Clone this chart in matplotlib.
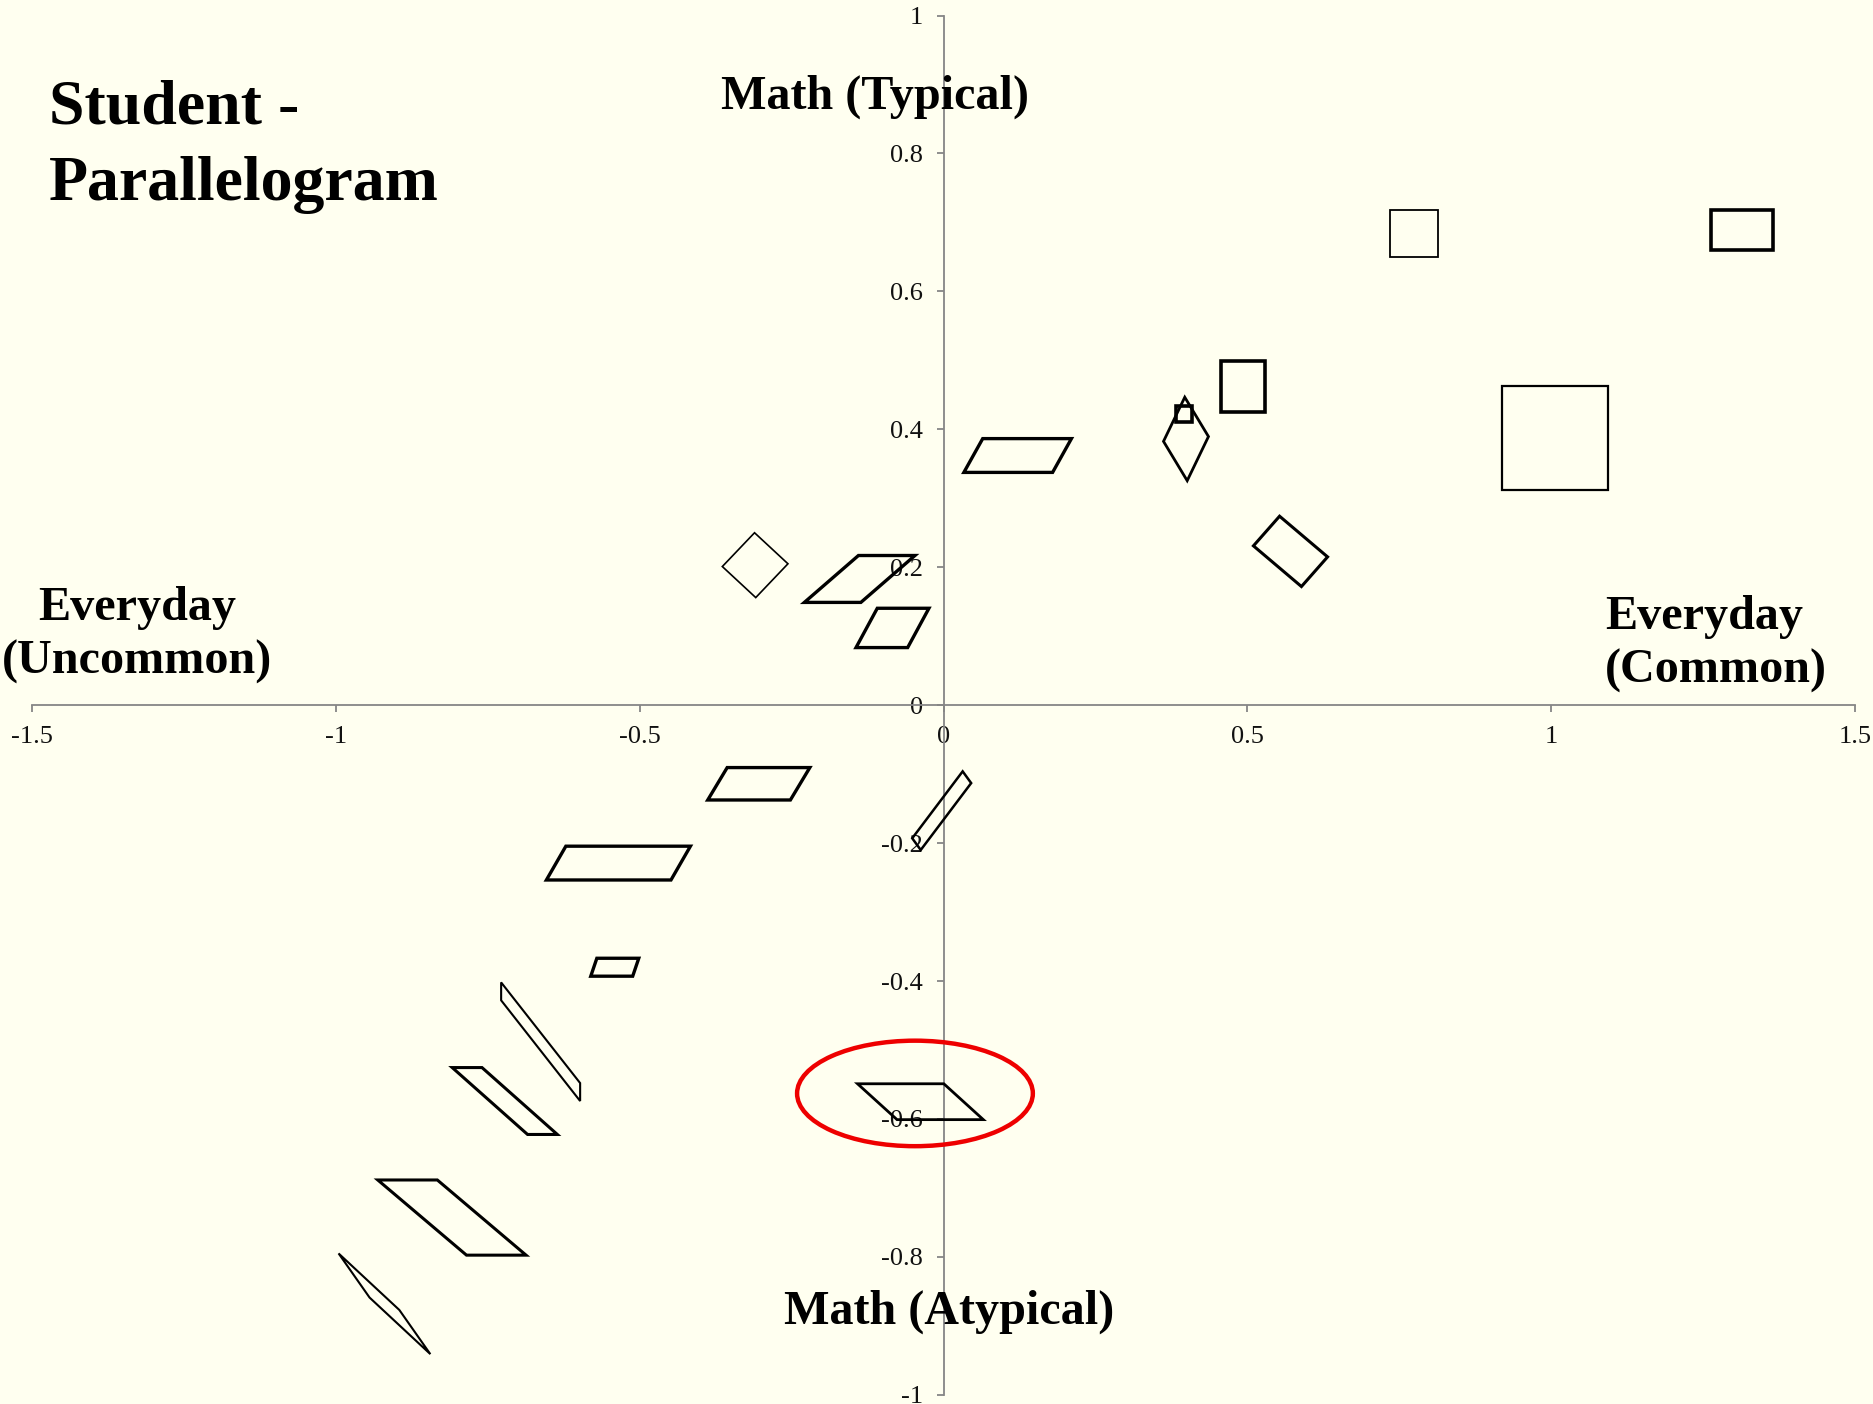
import matplotlib
matplotlib.use('Agg')
import matplotlib.pyplot as plt
from matplotlib.patches import Polygon, Ellipse

# ---------------- data ----------------
x_ticks = [-1.5, -1, -0.5, 0, 0.5, 1, 1.5]
x_tick_labels = ['-1.5', '-1', '-0.5', '0', '0.5', '1', '1.5']
y_ticks = [-1, -0.8, -0.6, -0.4, -0.2, 0, 0.2, 0.4, 0.6, 0.8, 1]
y_tick_labels = ['-1', '-0.8', '-0.6', '-0.4', '-0.2', '0', '0.2', '0.4', '0.6', '0.8', '1']

# shape centres (Everyday axis, Math axis)
shape_x = [0.775, 1.314, 0.493, 1.006, 0.399, 0.396, 0.122, 0.571, -0.310, -0.138,
           -0.084, -0.304, -0.003, -0.535, -0.541, -0.663, -0.722, -0.038, -0.809, -0.920]
shape_y = [0.684, 0.689, 0.462, 0.387, 0.386, 0.422, 0.362, 0.223, 0.203, 0.183,
           0.112, -0.114, -0.153, -0.229, -0.380, -0.488, -0.574, -0.575, -0.743, -0.868]
# parallelogram edge vectors (data units)
edge_a_x = [0.079, 0.102, 0.073, 0.175, 0.039, 0.026, 0.146, 0.079, 0.055, 0.093,
            0.085, 0.136, 0.014, 0.205, 0.069, 0.000, 0.049, 0.142, 0.098, 0.100]
edge_a_y = [0.000, 0.000, 0.000, 0.000, -0.057, 0.000, 0.000, -0.059, -0.045, 0.000,
            0.000, 0.000, -0.017, 0.000, 0.000, -0.026, 0.000, 0.000, 0.000, -0.082]
edge_b_x = [0.000, 0.000, 0.000, 0.000, -0.035, 0.000, 0.031, -0.043, -0.053, 0.089,
            0.035, 0.032, 0.083, 0.032, 0.010, 0.130, 0.124, 0.065, 0.146, 0.051]
edge_b_y = [0.068, 0.057, 0.075, 0.151, -0.064, 0.023, 0.049, -0.043, -0.049, 0.068,
            0.057, 0.047, 0.097, 0.049, 0.026, -0.146, -0.097, -0.052, -0.109, -0.064]

# highlighted shape (red ellipse)
highlight_x = -0.047
highlight_y = -0.563
highlight_w = 0.388
highlight_h = 0.153

# ---------------- styles ----------------
shape_lw = [1.3, 2.6, 2.6, 1.6, 2.0, 2.6, 2.4, 2.2, 1.2, 2.4,
            2.4, 2.4, 1.8, 2.4, 2.4, 1.5, 2.2, 2.0, 2.2, 1.5]
BG = '#FFFFF0'
AXIS_GRAY = '#868686'
SERIF = ['Liberation Serif', 'DejaVu Serif']

plt.rcParams['font.family'] = SERIF

fig = plt.figure(figsize=(18.74, 14.04), dpi=100, facecolor=BG)
ax = fig.add_axes([0.01708, 0.00655, 0.9728, 0.9824])
ax.set_facecolor(BG)
ax.set_xlim(-1.5, 1.5)
ax.set_ylim(-1, 1)

for s in ['top', 'right']:
    ax.spines[s].set_visible(False)
ax.spines['left'].set_position(('data', 0))
ax.spines['bottom'].set_position(('data', 0))
for s in ['left', 'bottom']:
    ax.spines[s].set_color(AXIS_GRAY)
    ax.spines[s].set_linewidth(1.3)

ax.set_xticks(x_ticks)
ax.set_xticklabels(x_tick_labels)
ax.set_yticks(y_ticks)
ax.set_yticklabels(y_tick_labels)
ax.tick_params(axis='both', direction='out', length=5, width=1.3, color=AXIS_GRAY,
               labelsize=19, labelcolor='#111111', pad=10)

for cx, cy, ax_, ay_, bx_, by_, lw in zip(shape_x, shape_y, edge_a_x, edge_a_y,
                                          edge_b_x, edge_b_y, shape_lw):
    verts = [
        (cx - ax_ / 2 - bx_ / 2, cy - ay_ / 2 - by_ / 2),
        (cx + ax_ / 2 - bx_ / 2, cy + ay_ / 2 - by_ / 2),
        (cx + ax_ / 2 + bx_ / 2, cy + ay_ / 2 + by_ / 2),
        (cx - ax_ / 2 + bx_ / 2, cy - ay_ / 2 + by_ / 2),
    ]
    ax.add_patch(Polygon(verts, closed=True, facecolor='none', edgecolor='black',
                         linewidth=lw, joinstyle='miter', zorder=3))

ax.add_patch(Ellipse((highlight_x, highlight_y), highlight_w, highlight_h,
                     facecolor='none', edgecolor='#EE0000', linewidth=3.2, zorder=4))

# ---------------- text ----------------
title_kw = dict(fontsize=46, fontweight='bold', family=SERIF, color='black')
lab_kw = dict(fontsize=34.7, fontweight='bold', family=SERIF, color='black')

fig.text(0.0261, 0.9123, 'Student -', ha='left', va='baseline', **title_kw)
fig.text(0.0261, 0.8579, 'Parallelogram', ha='left', va='baseline', **title_kw)

fig.text(0.4668, 0.9226, 'Math (Typical)', ha='center', va='baseline', **lab_kw)
fig.text(0.5067, 0.0570, 'Math (Atypical)', ha='center', va='baseline', **lab_kw)

fig.text(0.0733, 0.5583, 'Everyday', ha='center', va='baseline', **lab_kw)
fig.text(0.0733, 0.5200, '(Uncommon)', ha='center', va='baseline', **lab_kw)

fig.text(0.8565, 0.5523, 'Everyday', ha='left', va='baseline', **lab_kw)
fig.text(0.8565, 0.5140, '(Common)', ha='left', va='baseline', **lab_kw)

fig.savefig('out.png', dpi=100, facecolor=BG)
